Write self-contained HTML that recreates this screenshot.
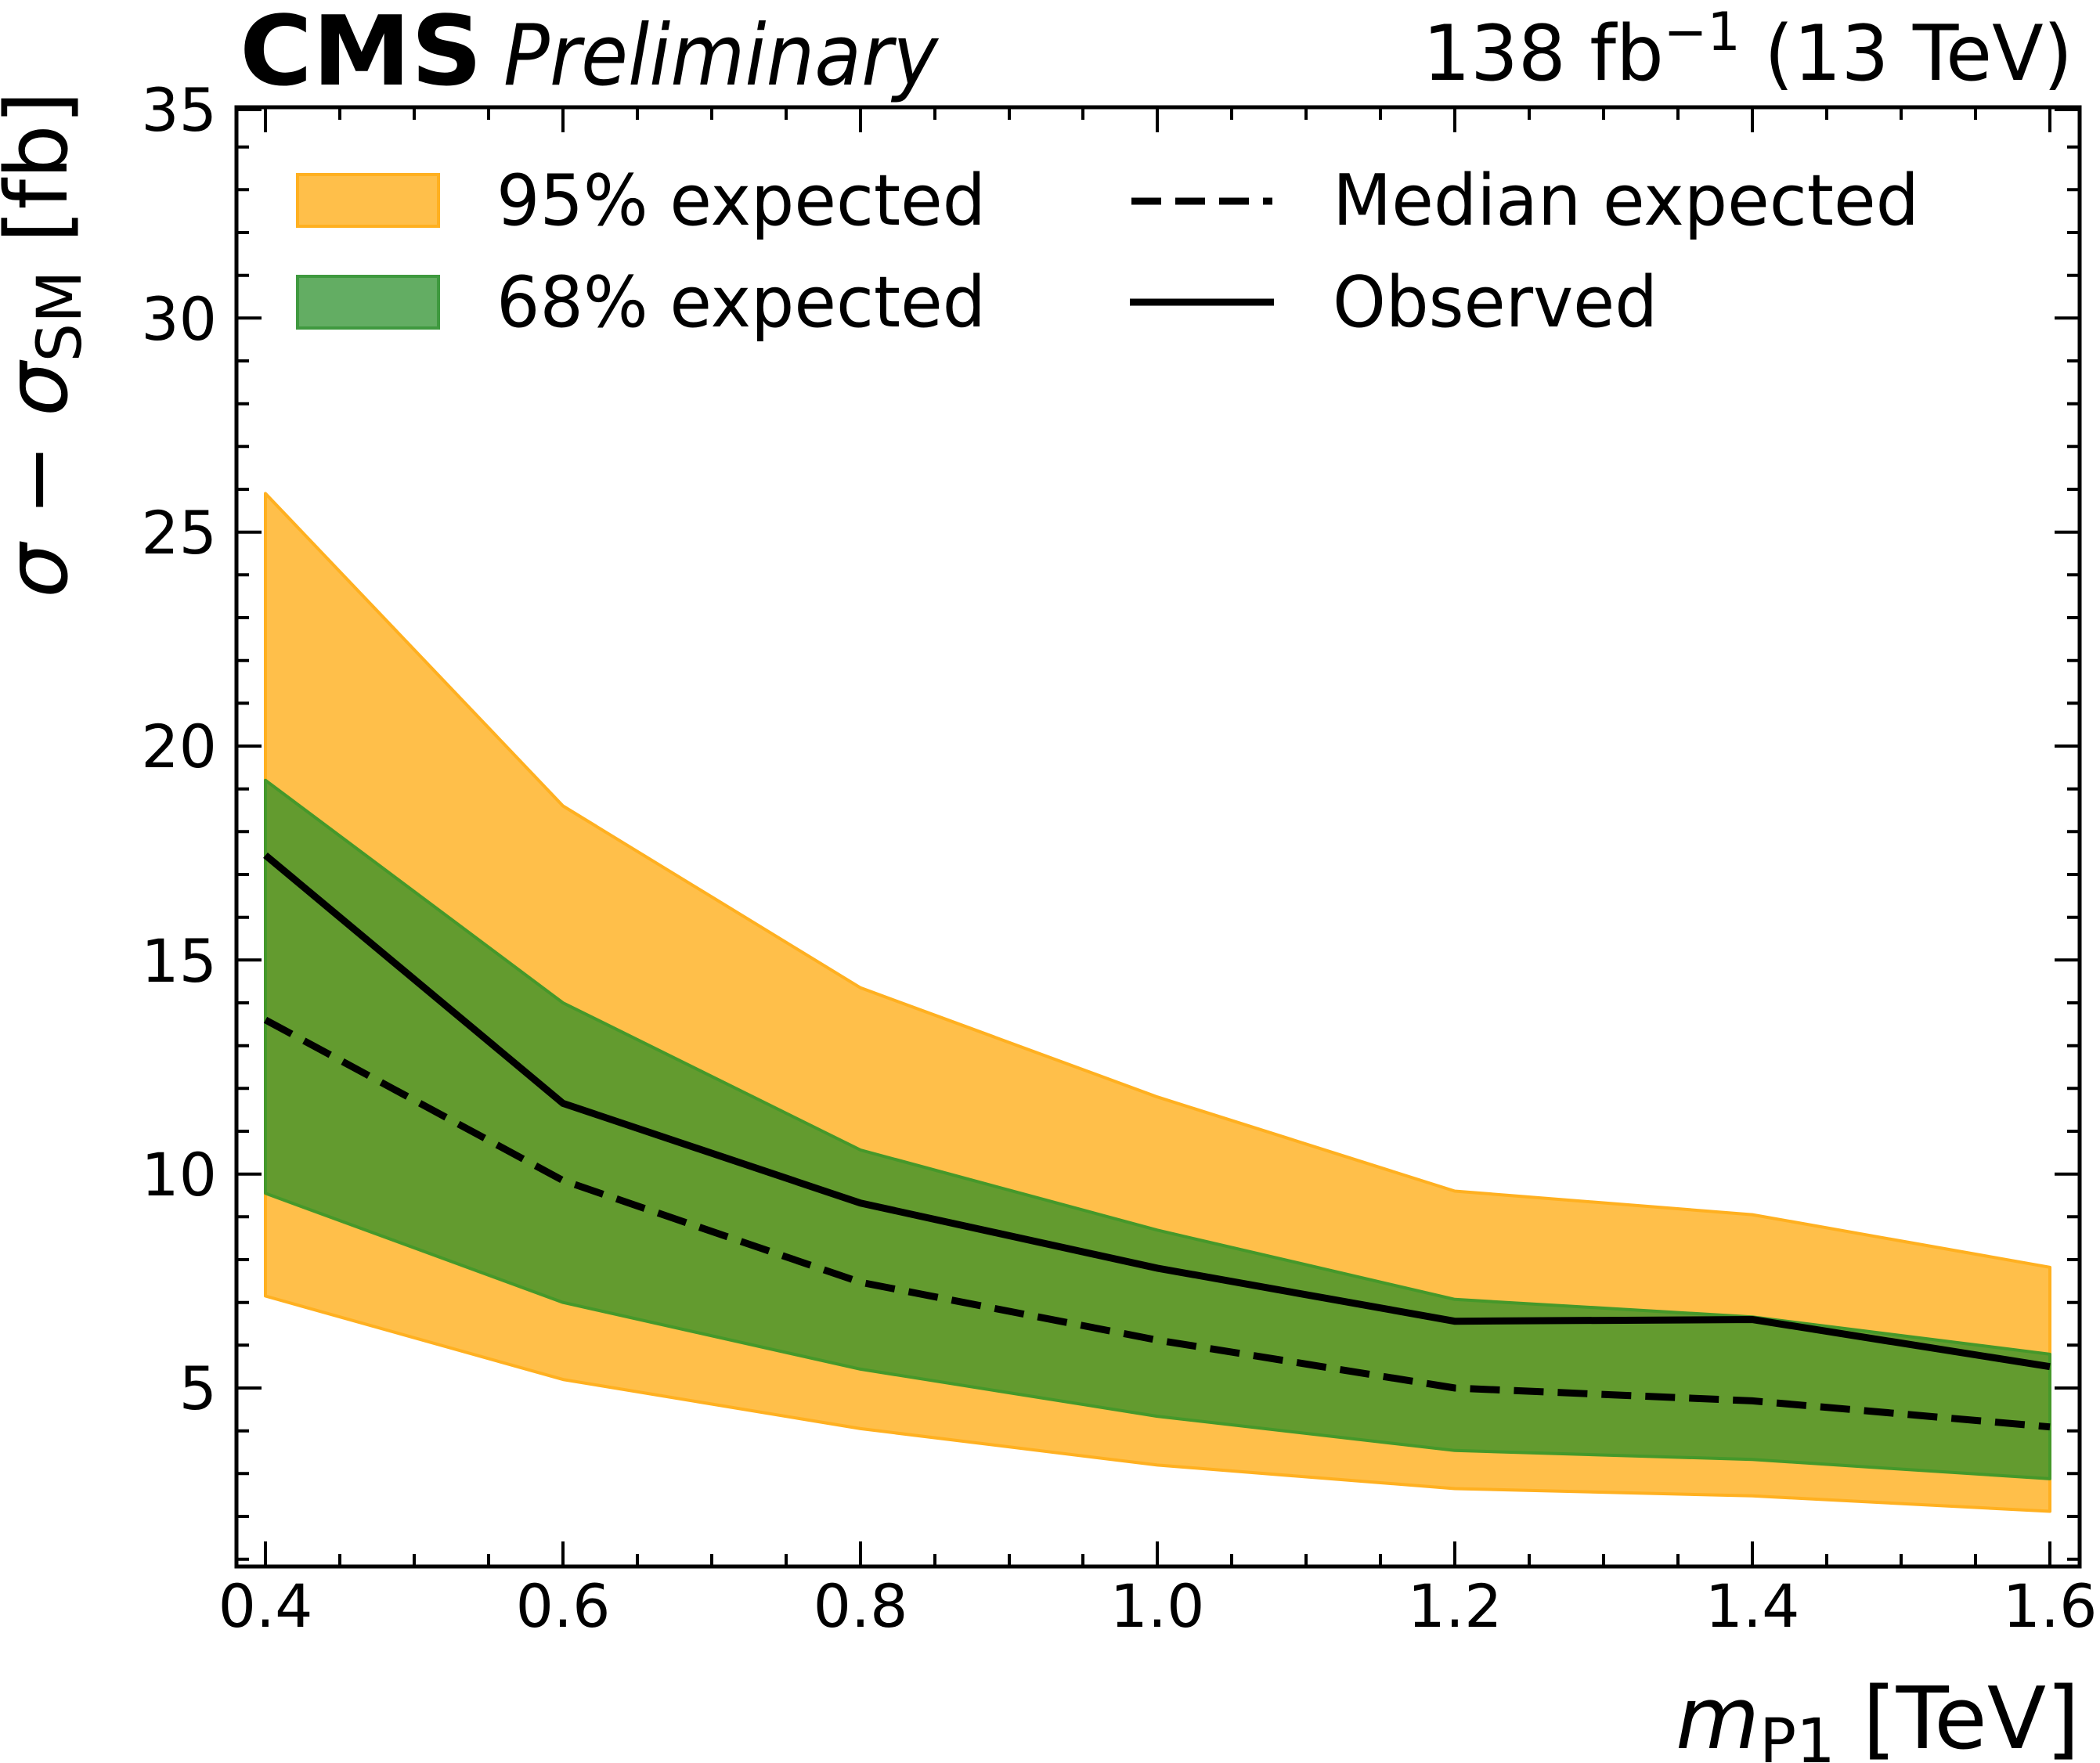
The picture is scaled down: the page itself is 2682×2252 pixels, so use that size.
<!DOCTYPE html>
<html><head><meta charset="utf-8"><style>
html,body{margin:0;padding:0;background:#fff;}
svg{display:block;}
text{font-family:"DejaVu Sans","Liberation Sans",sans-serif;fill:#000;}
</style></head><body>
<svg width="2682" height="2252" viewBox="0 0 2682 2252" xmlns="http://www.w3.org/2000/svg">
<polygon fill="#FFBF4A" stroke="#FFB020" stroke-width="4" stroke-linejoin="round" points="339,630.4 719,1029.5 1099,1261.8 1478,1401.2 1858,1521.5 2238,1551.6 2618,1618.8 2618,1930.5 2238,1910.8 1858,1901.5 1478,1871.4 1099,1824.9 719,1762.1 339,1655.5"/>
<polygon fill="#639B2F" stroke="#45982A" stroke-width="4" stroke-linejoin="round" points="339,996.7 719,1281 1099,1469 1478,1571.3 1858,1659.8 2238,1682.2 2618,1729.8 2618,1888.9 2238,1864.3 1858,1852.8 1478,1809.1 1099,1748.9 719,1663.7 339,1524.3"/>
<polyline fill="none" stroke="#000" stroke-width="9" stroke-dasharray="38,18" points="339,1302.8 719,1507.9 1099,1638 1478,1711.8 1858,1773 2238,1789.4 2618,1822.7"/>
<polyline fill="none" stroke="#000" stroke-width="9" points="339,1092.4 719,1409.4 1099,1536.8 1478,1619.9 1858,1687.7 2238,1685.5 2618,1745.7"/>

<rect x="302" y="137" width="2354" height="1864" fill="none" stroke="#000" stroke-width="5"/>
<g stroke="#000" stroke-width="4">
<path d="M339,2001v-32M719,2001v-32M1099,2001v-32M1478,2001v-32M1858,2001v-32M2238,2001v-32M2618,2001v-32
M339,137v32M719,137v32M1099,137v32M1478,137v32M1858,137v32M2238,137v32M2618,137v32"/>
<path d="M434,2001v-16M529,2001v-16M624,2001v-16M814,2001v-16M909,2001v-16M1004,2001v-16M1194,2001v-16M1289,2001v-16M1383,2001v-16M1573,2001v-16M1668,2001v-16M1763,2001v-16M1953,2001v-16M2048,2001v-16M2143,2001v-16M2333,2001v-16M2428,2001v-16M2523,2001v-16
M434,137v16M529,137v16M624,137v16M814,137v16M909,137v16M1004,137v16M1194,137v16M1289,137v16M1383,137v16M1573,137v16M1668,137v16M1763,137v16M1953,137v16M2048,137v16M2143,137v16M2333,137v16M2428,137v16M2523,137v16"/>
<path d="M302,1773h32M302,1499.7h32M302,1226.3h32M302,953h32M302,679.7h32M302,406.3h32M302,140h32
M2656,1773h-32M2656,1499.7h-32M2656,1226.3h-32M2656,953h-32M2656,679.7h-32M2656,406.3h-32M2656,140h-32"/>
<path d="M302,1991.7h16M302,1937h16M302,1882.3h16M302,1827.7h16M302,1718.3h16M302,1663.7h16M302,1609h16M302,1554.3h16M302,1445h16M302,1390.3h16M302,1335.7h16M302,1281h16M302,1171.7h16M302,1117h16M302,1062.3h16M302,1007.7h16M302,898.3h16M302,843.7h16M302,789h16M302,734.3h16M302,625h16M302,570.3h16M302,515.7h16M302,461h16M302,351.7h16M302,297h16M302,242.3h16M302,187.7h16
M2656,1991.7h-16M2656,1937h-16M2656,1882.3h-16M2656,1827.7h-16M2656,1718.3h-16M2656,1663.7h-16M2656,1609h-16M2656,1554.3h-16M2656,1445h-16M2656,1390.3h-16M2656,1335.7h-16M2656,1281h-16M2656,1171.7h-16M2656,1117h-16M2656,1062.3h-16M2656,1007.7h-16M2656,898.3h-16M2656,843.7h-16M2656,789h-16M2656,734.3h-16M2656,625h-16M2656,570.3h-16M2656,515.7h-16M2656,461h-16M2656,351.7h-16M2656,297h-16M2656,242.3h-16M2656,187.7h-16"/>
</g>

<g font-size="76" text-anchor="middle">
<text x="339" y="2078">0.4</text><text x="719" y="2078">0.6</text><text x="1099" y="2078">0.8</text><text x="1478" y="2078">1.0</text><text x="1858" y="2078">1.2</text><text x="2238" y="2078">1.4</text><text x="2618" y="2078">1.6</text>
</g>
<g font-size="76" text-anchor="end">
<text x="277" y="1800">5</text><text x="277" y="1527">10</text><text x="277" y="1254">15</text><text x="277" y="980">20</text><text x="277" y="707">25</text><text x="277" y="434">30</text><text x="277" y="167">35</text>
</g>

<text x="306" y="108" font-family="Liberation Sans, sans-serif" font-weight="bold" font-size="123" textLength="310" lengthAdjust="spacingAndGlyphs">CMS</text>
<text x="643" y="108" font-family="Liberation Sans, sans-serif" font-style="italic" font-size="108" textLength="555" lengthAdjust="spacingAndGlyphs">Preliminary</text>
<text x="1817" y="102" font-size="98" textLength="830" lengthAdjust="spacingAndGlyphs">138 fb<tspan dy="-38" font-size="68">−1</tspan><tspan dy="38"> (13 TeV)</tspan></text>

<rect x="380" y="223" width="180" height="66" fill="#FFBF4A" stroke="#FFB020" stroke-width="4"/>
<rect x="380" y="353" width="180" height="66" fill="#63AD63" stroke="#3F993F" stroke-width="4"/>
<text x="634" y="287" font-size="90" textLength="625" lengthAdjust="spacingAndGlyphs">95% expected</text>
<text x="634" y="417" font-size="90" textLength="625" lengthAdjust="spacingAndGlyphs">68% expected</text>
<line x1="1445" y1="257" x2="1625" y2="257" stroke="#000" stroke-width="9" stroke-dasharray="38,18"/>
<line x1="1443" y1="386" x2="1627" y2="386" stroke="#000" stroke-width="9"/>
<text x="1702" y="287" font-size="90" textLength="749" lengthAdjust="spacingAndGlyphs">Median expected</text>
<text x="1702" y="417" font-size="90" textLength="415" lengthAdjust="spacingAndGlyphs">Observed</text>

<text transform="translate(85,440) rotate(-90)" text-anchor="middle" font-size="110"><tspan font-style="italic">σ</tspan> − <tspan font-style="italic">σ</tspan><tspan font-size="78" dy="18">SM</tspan><tspan dy="-18"> [fb]</tspan></text>
<text x="2656" y="2233" text-anchor="end" font-size="110"><tspan font-style="italic">m</tspan><tspan font-size="78" dy="18">P1</tspan><tspan dy="-18"> [TeV]</tspan></text>
</svg>
</body></html>
